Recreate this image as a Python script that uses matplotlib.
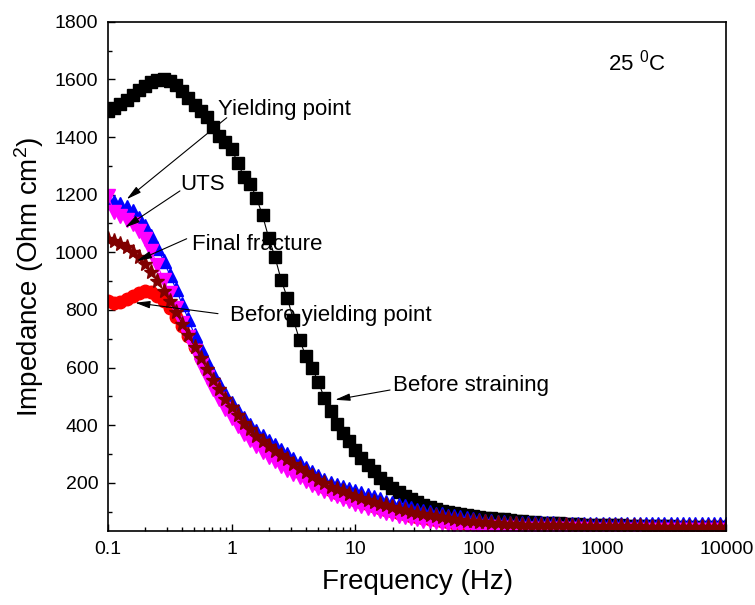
import numpy as np
import matplotlib.pyplot as plt
from matplotlib.ticker import FixedLocator, NullFormatter, FuncFormatter, MultipleLocator

plt.rcParams['font.family'] = ['Liberation Sans', 'DejaVu Sans']
plt.rcParams['mathtext.default'] = 'regular'

# frequency (Hz), 20 points per decade
freq = [0.1, 0.1122, 0.1259, 0.1413, 0.1585, 0.1778, 0.1995, 0.2239, 0.2512, 0.2818,
        0.3162, 0.3548, 0.3981, 0.4467, 0.5012, 0.5623, 0.631, 0.7079, 0.7943, 0.8913,
        1.0, 1.122, 1.259, 1.413, 1.585, 1.778, 1.995, 2.239, 2.512, 2.818,
        3.162, 3.548, 3.981, 4.467, 5.012, 5.623, 6.31, 7.079, 7.943, 8.913,
        10.0, 11.22, 12.59, 14.13, 15.85, 17.78, 19.95, 22.39, 25.12, 28.18,
        31.62, 35.48, 39.81, 44.67, 50.12, 56.23, 63.1, 70.79, 79.43, 89.13,
        100, 112.2, 125.9, 141.3, 158.5, 177.8, 199.5, 223.9, 251.2, 281.8,
        316.2, 354.8, 398.1, 446.7, 501.2, 562.3, 631, 707.9, 794.3, 891.3,
        1000, 1122, 1259, 1413, 1585, 1778, 1995, 2239, 2512, 2818,
        3162, 3548, 3981, 4467, 5012, 5623, 6310, 7079, 7943, 8913, 10000]

# impedance (Ohm cm2)
z_before_straining = [1490, 1502, 1516, 1530, 1545, 1562, 1578, 1590, 1598, 1602,
                      1596, 1582, 1560, 1535, 1512, 1492, 1468, 1435, 1405, 1382,
                      1358, 1310, 1262, 1238, 1190, 1128, 1050, 984, 905, 842,
                      765, 695, 640, 600, 550, 495, 450, 405, 372, 345,
                      314, 287, 263, 240, 217, 200, 182, 167, 155, 144,
                      133, 122, 115, 109, 102, 98, 95, 92, 89, 85,
                      82, 79, 77, 75, 73, 71, 69, 67, 65, 63,
                      62, 61, 60, 59, 58, 57, 56, 55, 55, 54,
                      53, 53, 52, 52, 51, 51, 50, 50, 50, 49,
                      49, 49, 48, 48, 48, 48, 47, 47, 47, 47, 46]

z_before_yield = [830, 824, 828, 838, 848, 858, 866, 862, 850, 830,
                  805, 776, 745, 710, 672, 632, 592, 554, 518, 484,
                  452, 423, 397, 373, 351, 331, 313, 296, 280, 265,
                  250, 236, 222, 209, 197, 186, 175, 166, 157, 149,
                  141, 133, 126, 119, 113, 107, 101, 96, 91, 86,
                  82, 78, 74, 71, 68, 65, 62, 60, 58, 56,
                  54, 53, 52, 51, 50, 49, 48, 47, 47, 46,
                  46, 45, 45, 45, 44, 44, 44, 44, 43, 43,
                  43, 43, 43, 43, 42, 42, 42, 42, 42, 42,
                  42, 42, 42, 42, 41, 41, 41, 41, 41, 41, 41]

z_yielding = [1178, 1174, 1168, 1158, 1143, 1120, 1090, 1055, 1015, 970,
              922, 872, 820, 767, 714, 664, 618, 578, 542, 509,
              478, 450, 424, 401, 380, 361, 345, 330, 314, 299,
              284, 267, 251, 237, 224, 211, 199, 191, 184, 177,
              170, 163, 156, 149, 142, 135, 129, 123, 118, 112,
              107, 102, 97, 93, 90, 86, 83, 80, 77, 74,
              71, 69, 67, 65, 63, 62, 61, 61, 60, 60,
              59, 59, 59, 58, 58, 58, 58, 58, 58, 57,
              57, 57, 57, 57, 57, 57, 57, 57, 56, 56,
              56, 56, 56, 56, 56, 56, 56, 56, 56, 56, 56]

z_uts = [1195, 1140, 1125, 1112, 1098, 1075, 1045, 1005, 955, 905,
         858, 808, 756, 705, 656, 610, 567, 527, 490, 456,
         425, 397, 371, 347, 326, 307, 290, 274, 259, 245,
         232, 219, 206, 194, 183, 172, 162, 153, 144, 136,
         128, 121, 114, 108, 102, 96, 91, 86, 81, 77,
         73, 69, 66, 63, 60, 57, 55, 53, 51, 49,
         47, 46, 45, 44, 43, 42, 41, 41, 40, 40,
         39, 39, 39, 38, 38, 38, 38, 38, 37, 37,
         37, 37, 37, 37, 37, 37, 36, 36, 36, 36,
         36, 36, 36, 36, 36, 36, 36, 36, 36, 36, 36]

z_fracture = [1045, 1040, 1030, 1018, 1002, 984, 960, 932, 900, 866,
              830, 792, 752, 712, 672, 632, 594, 558, 524, 492,
              462, 434, 408, 385, 364, 345, 328, 312, 296, 281,
              266, 251, 237, 223, 210, 198, 187, 178, 170, 162,
              155, 148, 141, 134, 128, 122, 116, 110, 105, 100,
              95, 91, 87, 83, 80, 77, 74, 71, 69, 67,
              65, 63, 61, 60, 58, 57, 56, 55, 54, 54,
              53, 53, 52, 52, 52, 51, 51, 51, 50, 50,
              50, 50, 49, 49, 49, 49, 49, 48, 48, 48,
              48, 48, 48, 48, 48, 47, 47, 47, 47, 47, 47]

fig = plt.figure(figsize=(7.55, 6.05), dpi=100)
ax = fig.add_axes([0.143, 0.122, 0.819, 0.842])

ax.plot(freq, z_before_straining, '-s', color='black', ms=8, lw=0.8)
ax.plot(freq, z_before_yield, '-o', color='#ff0000', ms=9, lw=0.8)
ax.plot(freq, z_yielding, '-^', color='#0000ff', ms=9.5, lw=0.8)
ax.plot(freq, z_uts, '-v', color='#ff00ff', ms=9.5, lw=0.8)
ax.plot(freq, z_fracture, '-*', color='#800000', ms=11, lw=0.8)

ax.set_xscale('log')
ax.set_xlim(0.1, 10000)
ax.set_ylim(32, 1800)
ax.xaxis.set_major_locator(FixedLocator([0.1, 1, 10, 100, 1000, 10000]))
ax.xaxis.set_major_formatter(FuncFormatter(lambda v, p: '%g' % v))
ax.xaxis.set_minor_formatter(NullFormatter())
ax.yaxis.set_major_locator(FixedLocator([200, 400, 600, 800, 1000, 1200, 1400, 1600, 1800]))
ax.yaxis.set_minor_locator(MultipleLocator(100))

ax.tick_params(which='both', direction='in', labelsize=14, width=1.0)
ax.tick_params(which='major', length=5, pad=7)
ax.tick_params(which='minor', length=3)
for s in ax.spines.values():
    s.set_linewidth(1.2)

ax.set_xlabel('Frequency (Hz)', fontsize=20, labelpad=8)
ax.set_ylabel('Impedance (Ohm cm$^2$)', fontsize=20, labelpad=6)

arrow = dict(arrowstyle='-|>,head_length=0.9,head_width=0.22', color='black', lw=0.8,
             shrinkA=0, shrinkB=0)
# (label, text pos, arrow tail, arrow tip)
notes = [('Yielding point', (0.776, 1494), (0.913, 1467), (0.1416, 1184)),
         ('UTS', (0.387, 1236), (0.382, 1213), (0.1373, 1086)),
         ('Final fracture', (0.476, 1028), (0.433, 1047), (0.1709, 970)),
         ('Before yielding point', (0.97, 780), (0.776, 787), (0.1655, 825)),
         ('Before straining', (20.3, 537), (19.1, 522), (6.86, 488))]
for label, tpos, tail, tip in notes:
    ax.annotate('', xy=tip, xytext=tail, arrowprops=arrow)
    ax.text(tpos[0], tpos[1], label, fontsize=16, ha='left', va='center')

ax.text(1109, 1658, '25 $^0$C', fontsize=16, ha='left', va='center')

fig.savefig('out.png', dpi=100)
